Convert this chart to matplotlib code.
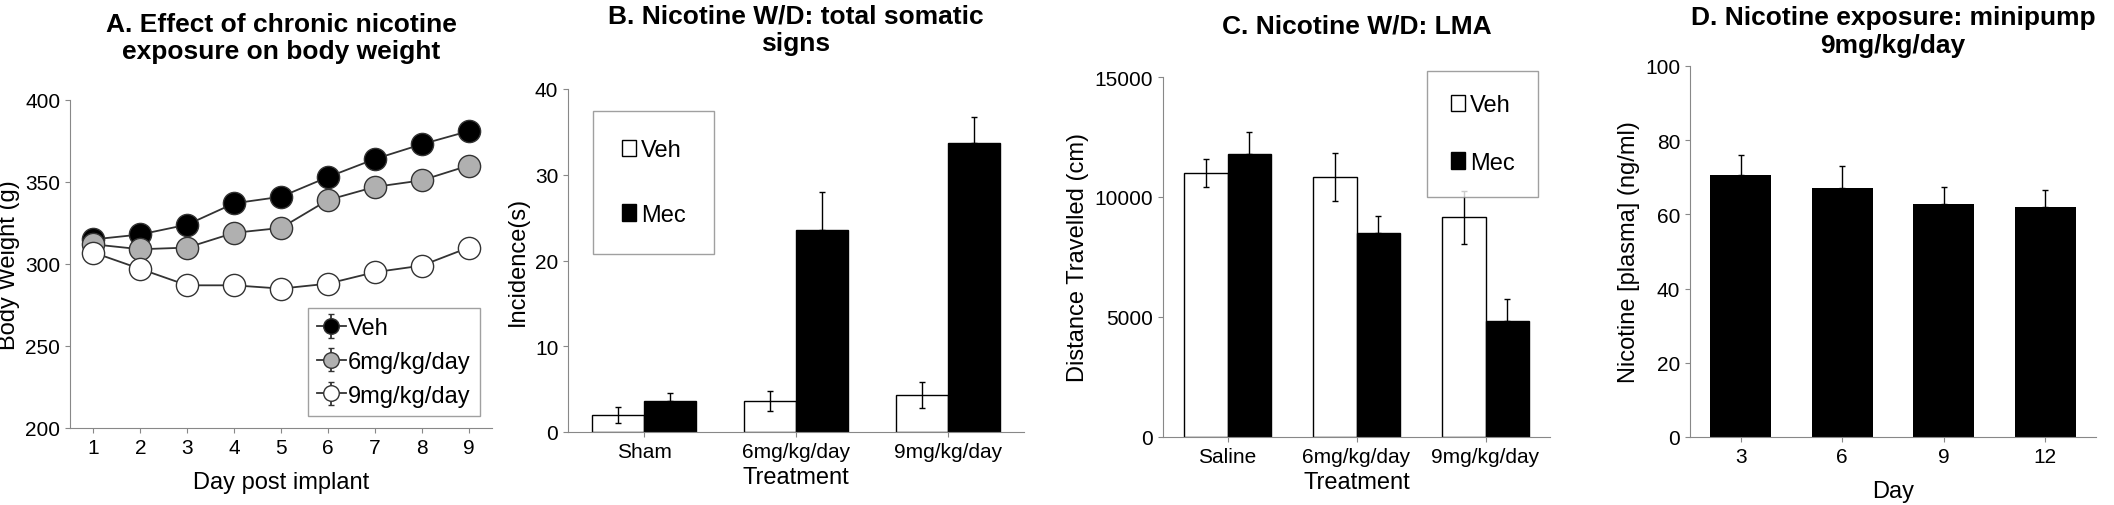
import matplotlib
matplotlib.use("Agg")
import matplotlib.pyplot as plt
import numpy as np

plt.rcParams["font.family"] = ["Liberation Sans Narrow", "Liberation Sans", "DejaVu Sans"]
plt.rcParams["font.size"] = 15

# A: body weight
days = [1, 2, 3, 4, 5, 6, 7, 8, 9]
bw_veh = [315, 318, 324, 337, 341, 353, 364, 373, 381]
bw_veh_err = [2, 2, 3, 3, 3, 3, 4, 4, 3]
bw_6 = [312, 309, 310, 319, 322, 339, 347, 351, 360]
bw_6_err = [2, 2, 3, 3, 3, 3, 4, 3, 3]
bw_9 = [307, 297, 287, 287, 285, 288, 295, 299, 310]
bw_9_err = [2, 3, 3, 3, 4, 3, 4, 6, 3]

# B: somatic signs
groups_b = ["Sham", "6mg/kg/day", "9mg/kg/day"]
som_veh = [2.0, 3.6, 4.3]
som_veh_err = [0.9, 1.2, 1.5]
som_mec = [3.6, 23.5, 33.7]
som_mec_err = [0.9, 4.5, 3.0]

# C: LMA
groups_c = ["Saline", "6mg/kg/day", "9mg/kg/day"]
lma_veh = [11000, 10850, 9150]
lma_veh_err = [600, 1000, 1100]
lma_mec = [11800, 8500, 4850]
lma_mec_err = [900, 700, 900]

# D: plasma nicotine
days_d = ["3", "6", "9", "12"]
nic = [70.5, 67.0, 62.8, 62.0]
nic_err = [5.5, 6.0, 4.5, 4.7]

fig = plt.figure(figsize=(21.14, 5.06), dpi=100)
W, H = 2114, 506
def add_ax(x0, x1, ytop, ybot):
    return fig.add_axes([x0 / W, 1 - ybot / H, (x1 - x0) / W, (ybot - ytop) / H])

def style(ax):
    for s in ("top", "right"):
        ax.spines[s].set_visible(False)
    ax.spines["left"].set_color("#888")
    ax.spines["bottom"].set_color("#888")
    ax.tick_params(colors="#888", labelcolor="black", direction="out", labelsize=15)

LBL = 17
TTL = 19

# A
ax = add_ax(70, 492, 101, 429)
style(ax)
for y, e, fc, lab in [(bw_veh, bw_veh_err, "black", "Veh"),
                      (bw_6, bw_6_err, "#b0b0b0", "6mg/kg/day"),
                      (bw_9, bw_9_err, "white", "9mg/kg/day")]:
    ax.errorbar(days, y, yerr=e, color="#333", marker="o", ms=16, mfc=fc, mec="#333",
                lw=1.3, capsize=2, label=lab)
ax.set_xlim(0.5, 9.5)
ax.set_ylim(200, 400)
ax.set_yticks([200, 250, 300, 350, 400])
ax.set_xticks(days)
ax.set_xlabel("Day post implant", fontsize=LBL, labelpad=10)
ax.set_ylabel("Body Weight (g)", fontsize=LBL)
ax.set_title("A. Effect of chronic nicotine\nexposure on body weight", fontweight="bold", fontsize=TTL, pad=30)
ax.legend(loc="lower right", fancybox=False, edgecolor="#888", fontsize=LBL, markerscale=0.7,
          handlelength=1.2, handletextpad=0.1)

def grouped(ax, names, v, ve, m, me):
    x = np.arange(len(names))
    w = 0.34
    ax.bar(x - w / 2, v, w, color="white", edgecolor="black", label="Veh",
           yerr=ve, error_kw=dict(ecolor="black", capsize=2, lw=1))
    ax.bar(x + w / 2, m, w, color="black", edgecolor="black", label="Mec",
           yerr=[[0] * len(m), me], error_kw=dict(ecolor="black", capsize=2, lw=1))
    ax.set_xticks(x)
    ax.set_xticklabels(names)
    ax.set_xlim(-0.5, len(names) - 0.5)
    return x

# B
ax = add_ax(568, 1024, 90, 433)
style(ax)
grouped(ax, groups_b, som_veh, som_veh_err, som_mec, som_mec_err)
ax.set_ylim(0, 40)
ax.set_yticks([0, 10, 20, 30, 40])
ax.set_xlabel("Treatment", fontsize=LBL)
ax.set_ylabel("Incidence(s)", fontsize=LBL)
ax.set_title("B. Nicotine W/D: total somatic\nsigns", fontweight="bold", fontsize=TTL, pad=28)
ax.legend(loc="upper left", bbox_to_anchor=(0.03, 0.97), fancybox=False, edgecolor="#888",
          fontsize=LBL, labelspacing=1.8, handlelength=0.6, handletextpad=0.2, borderpad=1.2)

# C
ax = add_ax(1163, 1550, 78, 438)
style(ax)
grouped(ax, groups_c, lma_veh, lma_veh_err, lma_mec, lma_mec_err)
ax.set_ylim(0, 15000)
ax.set_yticks([0, 5000, 10000, 15000])
ax.set_xlabel("Treatment", fontsize=LBL)
ax.set_ylabel("Distance Travelled (cm)", fontsize=LBL)
ax.set_title("C. Nicotine W/D: LMA", fontweight="bold", fontsize=TTL, pad=32)
ax.legend(loc="upper right", bbox_to_anchor=(1.0, 1.05), fancybox=False, edgecolor="#888",
          fontsize=LBL, labelspacing=1.5, handlelength=0.6, handletextpad=0.2, borderpad=1.0)

# D
ax = add_ax(1690, 2096, 67, 438)
style(ax)
xd = np.arange(len(days_d))
ax.bar(xd, nic, 0.6, color="black", yerr=[[0] * len(nic), nic_err],
       error_kw=dict(ecolor="black", capsize=2, lw=1))
ax.set_xticks(xd)
ax.set_xticklabels(days_d)
ax.set_xlim(-0.5, len(days_d) - 0.5)
ax.set_ylim(0, 100)
ax.set_yticks(range(0, 101, 20))
ax.set_xlabel("Day", fontsize=LBL, labelpad=10)
ax.set_ylabel("Nicotine [plasma] (ng/ml)", fontsize=LBL)
ax.set_title("D. Nicotine exposure: minipump\n9mg/kg/day", fontweight="bold", fontsize=TTL, pad=10)

fig.savefig("out.png", dpi=100)
